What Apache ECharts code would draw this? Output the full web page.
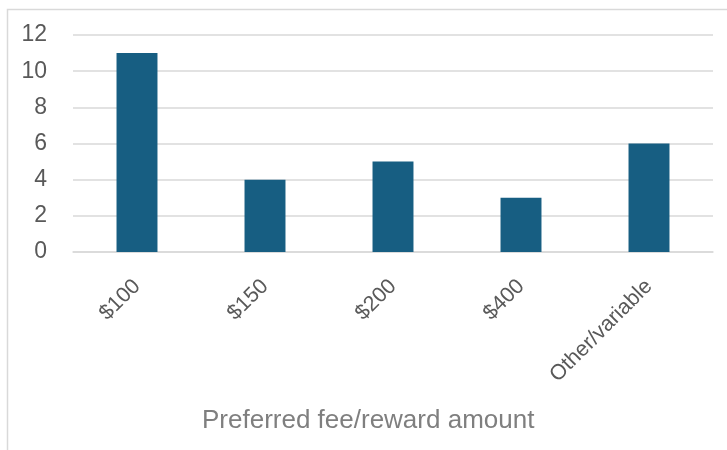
<!DOCTYPE html>
<html>
<head>
<meta charset="utf-8">
<style>html,body{margin:0;padding:0;background:#fff;}#c{width:727px;height:450px;}</style>
<script src="https://cdn.jsdelivr.net/npm/echarts@6/dist/echarts.min.js"></script>
</head>
<body>
<div id="c"></div>
<script>
const categories = ['$100', '$150', '$200', '$400', 'Other/variable'];
const counts = [11, 4, 5, 3, 6];
const yTicks = [0, 2, 4, 6, 8, 10, 12];
const axisTitle = 'Preferred fee/reward amount';

const chart = echarts.init(document.getElementById('c'), null, {renderer: 'canvas'});
chart.setOption({
  animation: false,
  backgroundColor: '#ffffff',
  graphic: [
    {type: 'rect', left: 5, top: 7, shape: {x: 0, y: 0, width: 800, height: 500},
     style: {fill: 'none', stroke: '#d9d9d9', lineWidth: 1.5}, silent: true},
    {type: 'text', left: 202, top: 408,
     style: {text: axisTitle, font: '26px "Liberation Sans", Arial, sans-serif', fill: '#7f7f7f'}}
  ],
  grid: {left: 73, right: 14, top: 35, bottom: 198, containLabel: false},
  xAxis: {
    type: 'category',
    data: categories,
    axisLine: {show: true, lineStyle: {color: '#d9d9d9', width: 1.5}},
    axisTick: {show: false},
    axisLabel: {rotate: 45, margin: 31, color: '#595959', fontSize: 21.5, fontFamily: '"Liberation Sans", Arial, sans-serif', interval: 0}
  },
  yAxis: {
    type: 'value',
    min: yTicks[0],
    max: yTicks[yTicks.length - 1],
    interval: 2,
    axisLine: {show: false},
    axisTick: {show: false},
    splitLine: {lineStyle: {color: '#d9d9d9', width: 1.5}},
    axisLabel: {margin: 26, color: '#595959', fontSize: 23, fontFamily: '"Liberation Sans", Arial, sans-serif'}
  },
  series: [{
    type: 'bar',
    data: counts,
    barWidth: '32%',
    itemStyle: {color: '#175E82'}
  }]
});
</script>
</body>
</html>
